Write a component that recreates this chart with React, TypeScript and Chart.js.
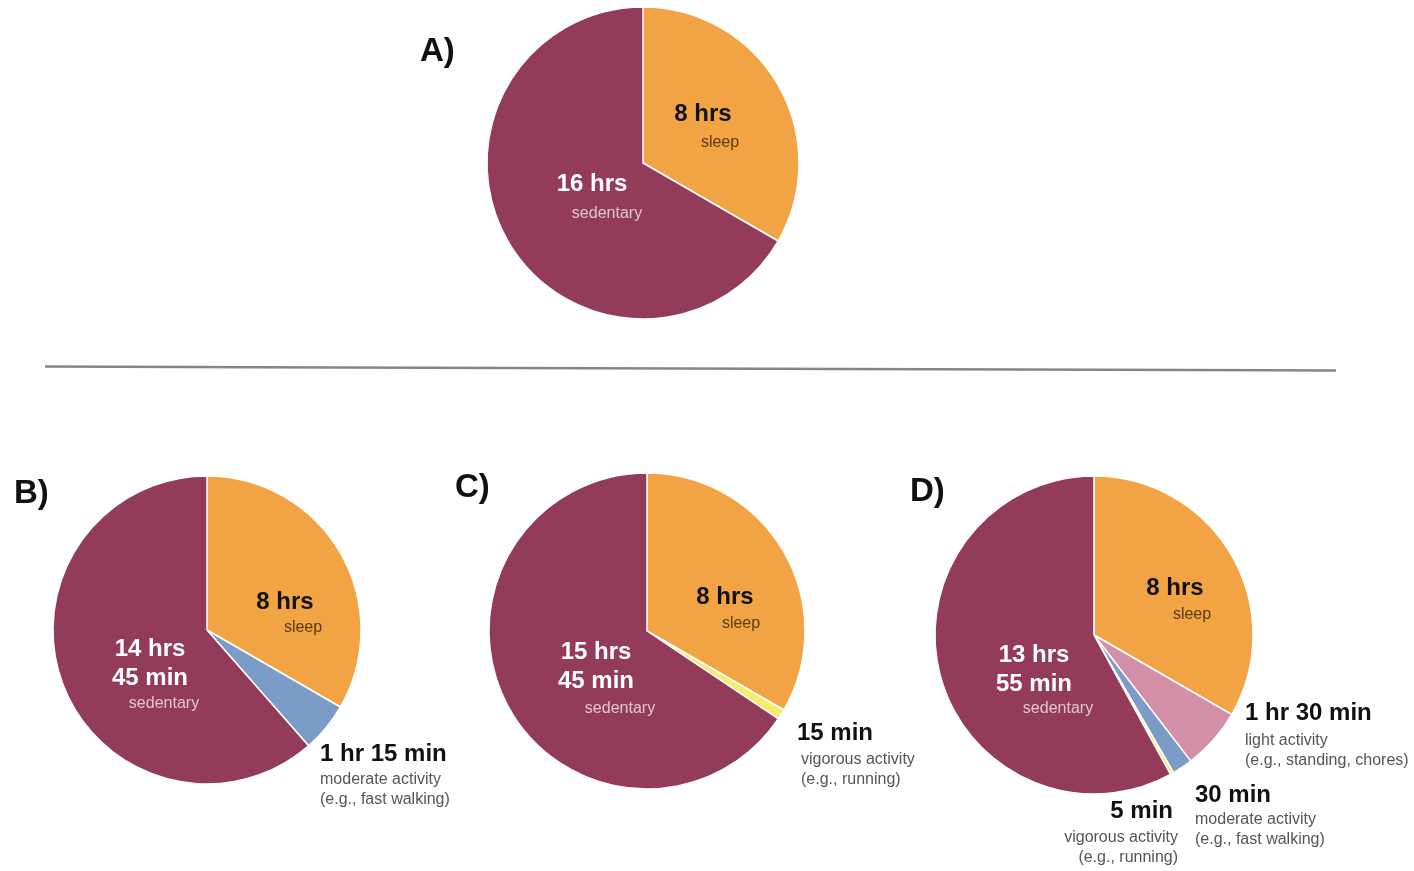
import { useEffect, useRef } from 'react';
import { Chart, registerables } from 'chart.js';

Chart.register(...registerables);

// ---- data: minutes per activity over a 24-hour day ----
const categoriesA = ['sleep', 'sedentary'];
const minutesA = [480, 960];

const categoriesB = ['sleep', 'moderate activity', 'sedentary'];
const minutesB = [480, 75, 885];

const categoriesC = ['sleep', 'vigorous activity', 'sedentary'];
const minutesC = [480, 15, 945];

const categoriesD = ['sleep', 'light activity', 'moderate activity', 'vigorous activity', 'sedentary'];
const minutesD = [480, 90, 30, 5, 835];

const examples: Record<string, string> = {
  'light activity': '(e.g., standing, chores)',
  'moderate activity': '(e.g., fast walking)',
  'vigorous activity': '(e.g., running)',
};

const COLORS: Record<string, string> = {
  sleep: '#F2A445',
  'light activity': '#D38FA7',
  'moderate activity': '#7C9CC8',
  'vigorous activity': '#F4EC6A',
  sedentary: '#933B5A',
};

const FONT = '"Liberation Sans", Arial, Helvetica, sans-serif';

// minutes -> ["8 hrs"] / ["14 hrs", "45 min"] / ["15 min"]
function durationParts(min: number): string[] {
  const h = Math.floor(min / 60);
  const m = min % 60;
  const parts: string[] = [];
  if (h > 0) parts.push(`${h} ${h > 1 ? 'hrs' : 'hr'}`);
  if (m > 0) parts.push(`${m} min`);
  return parts;
}

type Spot = {
  vx: number; vy: number; // value text position, relative to pie centre
  sx: number; sy: number; // category text position, relative to pie centre
  align: CanvasTextAlign;
  kind: 'orange' | 'maroon' | 'outside';
};

type Panel = {
  letter: string;
  letterX: number; letterY: number;
  box: { x: number; y: number; w: number; h: number };
  cx: number; cy: number; r: number;
  categories: string[];
  minutes: number[];
  spots: Record<string, Spot>;
};

const panels: Panel[] = [
  {
    letter: 'A)', letterX: 420, letterY: 52,
    box: { x: 380, y: 0, w: 460, h: 340 },
    cx: 643, cy: 163, r: 156,
    categories: categoriesA, minutes: minutesA,
    spots: {
      sleep: { vx: 60, vy: -49, sx: 77, sy: -20, align: 'center', kind: 'orange' },
      sedentary: { vx: -51, vy: 21, sx: -36, sy: 51, align: 'center', kind: 'maroon' },
    },
  },
  {
    letter: 'B)', letterX: 14, letterY: 494,
    box: { x: 0, y: 460, w: 470, h: 380 },
    cx: 207, cy: 630, r: 154,
    categories: categoriesB, minutes: minutesB,
    spots: {
      sleep: { vx: 78, vy: -28, sx: 96, sy: -2, align: 'center', kind: 'orange' },
      'moderate activity': { vx: 113, vy: 124, sx: 113, sy: 150, align: 'left', kind: 'outside' },
      sedentary: { vx: -57, vy: 19, sx: -43, sy: 74, align: 'center', kind: 'maroon' },
    },
  },
  {
    letter: 'C)', letterX: 455, letterY: 488,
    box: { x: 440, y: 460, w: 490, h: 350 },
    cx: 647, cy: 631, r: 158,
    categories: categoriesC, minutes: minutesC,
    spots: {
      sleep: { vx: 78, vy: -34, sx: 94, sy: -7, align: 'center', kind: 'orange' },
      'vigorous activity': { vx: 150, vy: 102, sx: 154, sy: 129, align: 'left', kind: 'outside' },
      sedentary: { vx: -51, vy: 21, sx: -27, sy: 78, align: 'center', kind: 'maroon' },
    },
  },
  {
    letter: 'D)', letterX: 910, letterY: 492,
    box: { x: 890, y: 460, w: 524, h: 411 },
    cx: 1094, cy: 635, r: 159,
    categories: categoriesD, minutes: minutesD,
    spots: {
      sleep: { vx: 81, vy: -47, sx: 98, sy: -20, align: 'center', kind: 'orange' },
      'light activity': { vx: 151, vy: 78, sx: 151, sy: 106, align: 'left', kind: 'outside' },
      'moderate activity': { vx: 101, vy: 160, sx: 101, sy: 185, align: 'left', kind: 'outside' },
      'vigorous activity': { vx: 79, vy: 176, sx: 84, sy: 203, align: 'right', kind: 'outside' },
      sedentary: { vx: -60, vy: 20, sx: -36, sy: 74, align: 'center', kind: 'maroon' },
    },
  },
];

// Draws the panel letter and the value / category text for every slice
const sliceLabels = {
  id: 'sliceLabels',
  afterDraw(chart: any, _args: any, opts: any) {
    const panel: Panel = opts.panel;
    if (!panel) return;
    const ctx: CanvasRenderingContext2D = chart.ctx;
    const meta = chart.getDatasetMeta(0);
    const values: number[] = chart.data.datasets[0].data;
    const cats: string[] = chart.data.labels;
    const arc0 = meta.data[0];
    const cx = arc0.x;
    const cy = arc0.y;

    ctx.save();
    ctx.textBaseline = 'middle';

    // panel letter
    ctx.fillStyle = '#111';
    ctx.textAlign = 'left';
    ctx.font = `bold 33px ${FONT}`;
    ctx.fillText(panel.letter, panel.letterX - panel.box.x, panel.letterY - panel.box.y);

    cats.forEach((cat, i) => {
      const spot = panel.spots[cat];
      if (!spot) return;
      const parts = durationParts(values[i]);
      const valueColor = spot.kind === 'maroon' ? '#FFFFFF' : '#111111';
      const subColor = spot.kind === 'maroon' ? '#E3C4D1' : spot.kind === 'orange' ? '#5A3A12' : '#555555';
      ctx.textAlign = spot.align;

      ctx.fillStyle = valueColor;
      ctx.font = `bold 24px ${FONT}`;
      if (spot.kind === 'outside') {
        ctx.fillText(parts.join(' '), cx + spot.vx, cy + spot.vy);
      } else {
        parts.forEach((p, k) => ctx.fillText(p, cx + spot.vx, cy + spot.vy + k * 29));
      }

      ctx.fillStyle = subColor;
      ctx.font = `16px ${FONT}`;
      ctx.fillText(cat, cx + spot.sx, cy + spot.sy);
      if (examples[cat]) ctx.fillText(examples[cat], cx + spot.sx, cy + spot.sy + 19.5);
    });
    ctx.restore();
  },
};

function PiePanel({ panel }: { panel: Panel }) {
  const ref = useRef<HTMLCanvasElement | null>(null);

  useEffect(() => {
    if (!ref.current) return;
    const { box, cx, cy, r } = panel;
    const lx = cx - box.x;
    const ly = cy - box.y;
    const half = r + 4;
    const chart = new Chart(ref.current, {
      type: 'pie',
      data: {
        labels: panel.categories,
        datasets: [
          {
            data: panel.minutes,
            backgroundColor: panel.categories.map((c) => COLORS[c]),
            borderColor: '#FFFFFF',
            borderWidth: 1.5,
          },
        ],
      },
      options: {
        responsive: false,
        animation: false,
        events: [],
        radius: r,
        layout: {
          padding: {
            left: lx - half,
            right: box.w - lx - half,
            top: ly - half,
            bottom: box.h - ly - half,
          },
        },
        plugins: {
          legend: { display: false },
          tooltip: { enabled: false },
          sliceLabels: { panel },
        },
      } as any,
      plugins: [sliceLabels],
    });
    return () => chart.destroy();
  }, [panel]);

  return (
    <canvas
      ref={ref}
      width={panel.box.w}
      height={panel.box.h}
      style={{ position: 'absolute', left: panel.box.x, top: panel.box.y, width: panel.box.w, height: panel.box.h }}
    />
  );
}

export default function App() {
  return (
    <div style={{ position: 'absolute', left: 0, top: 0, width: 1414, height: 871, background: '#FFFFFF', overflow: 'hidden' }}>
      <svg width={1414} height={871} style={{ position: 'absolute', left: 0, top: 0 }}>
        <line x1={45} y1={366.5} x2={1336} y2={370.5} stroke="#858585" strokeWidth={2.5} />
      </svg>
      {panels.map((p) => (
        <PiePanel key={p.letter} panel={p} />
      ))}
    </div>
  );
}
